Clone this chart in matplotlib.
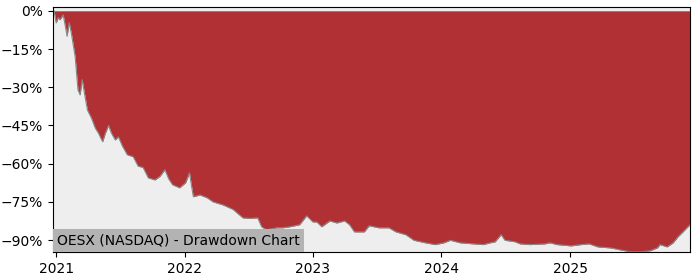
import numpy as np
import pandas as pd
import matplotlib
matplotlib.use('Agg')
import matplotlib.pyplot as plt
from matplotlib.ticker import FuncFormatter

# drawdown readings (date, % below peak)
dates = ['2020-12-23', '2020-12-26', '2021-01-01', '2021-01-07', '2021-01-12', '2021-01-21',
         '2021-01-27', '2021-02-01', '2021-02-07', '2021-02-13', '2021-02-24', '2021-03-04',
         '2021-03-10', '2021-03-16', '2021-03-22', '2021-03-31', '2021-04-11', '2021-04-22',
         '2021-05-01', '2021-05-13', '2021-05-21', '2021-05-30', '2021-06-07', '2021-06-18',
         '2021-06-27', '2021-07-08', '2021-07-22', '2021-08-08', '2021-08-22', '2021-09-05',
         '2021-09-20', '2021-10-09', '2021-10-23', '2021-11-06', '2021-11-17', '2021-11-28',
         '2021-12-18', '2022-01-04', '2022-01-15', '2022-01-20', '2022-01-26', '2022-02-14',
         '2022-03-06', '2022-03-23', '2022-04-20', '2022-05-19', '2022-06-16', '2022-07-05',
         '2022-07-28', '2022-08-08', '2022-08-22', '2022-09-20', '2022-10-07', '2022-10-27',
         '2022-11-24', '2022-12-14', '2023-01-01', '2023-01-12', '2023-01-26', '2023-02-18',
         '2023-03-10', '2023-04-01', '2023-04-15', '2023-04-29', '2023-05-27', '2023-06-10',
         '2023-07-08', '2023-08-05', '2023-08-25', '2023-09-22', '2023-10-15', '2023-11-17',
         '2023-12-15', '2024-01-08', '2024-01-27', '2024-02-24', '2024-04-01', '2024-04-29',
         '2024-05-19', '2024-06-02', '2024-06-19', '2024-06-30', '2024-07-29', '2024-08-12',
         '2024-09-09', '2024-10-22', '2024-11-05', '2024-11-25', '2025-01-04', '2025-02-01',
         '2025-02-24', '2025-03-21', '2025-04-27', '2025-05-25', '2025-06-22', '2025-07-20',
         '2025-08-17', '2025-09-06', '2025-09-14', '2025-10-04', '2025-10-21', '2025-11-04',
         '2025-11-18', '2025-12-02', '2025-12-08']
drawdown = [0.0, 0.0, -4.7, -2.7, -3.5, -1.6,
            -6.0, -10.0, -4.7, -8.6, -18.0, -31.0,
            -33.0, -27.0, -32.0, -39.0, -42.0, -46.0,
            -48.0, -51.4, -48.0, -45.0, -48.0, -50.7,
            -49.5, -53.0, -56.5, -57.3, -61.0, -61.5,
            -65.6, -66.4, -65.0, -62.4, -66.0, -68.3,
            -69.5, -67.5, -63.6, -68.0, -73.0, -72.3,
            -73.4, -75.0, -76.2, -78.0, -81.3, -81.5,
            -81.3, -84.8, -86.0, -85.2, -85.2, -84.8,
            -84.0, -80.5, -82.9, -82.9, -84.8, -82.5,
            -83.3, -82.5, -84.0, -86.8, -86.8, -84.4,
            -85.2, -85.2, -86.8, -87.9, -90.1, -91.1,
            -91.8, -91.1, -90.1, -91.1, -91.5, -91.8,
            -91.1, -90.7, -87.9, -90.1, -90.7, -91.5,
            -91.8, -91.5, -91.1, -91.8, -92.3, -91.8,
            -91.5, -92.7, -93.1, -93.9, -94.6, -94.6,
            -94.2, -93.1, -91.8, -92.7, -91.1, -88.7,
            -86.8, -84.8, -84.0]
yticks = [0, -15, -30, -45, -60, -75, -90]
title = 'OESX (NASDAQ) - Drawdown Chart'

x = pd.to_datetime(dates)
y = np.array(drawdown)

fig = plt.figure(figsize=(7, 2.8), dpi=100)
ax = fig.add_axes([0.0757, 0.1, 0.91, 0.875])
ax.set_facecolor('#eeeeee')
ax.fill_between(x, y, 0, color='#b03033', lw=0)
ax.plot(x, y, color='#888888', lw=0.8)

ax.set_xlim(x[0], x[-1])
ax.set_ylim(-94.7, 1.5)
ax.set_yticks(yticks)
ax.yaxis.set_major_formatter(FuncFormatter(lambda v, p: f'{v:.0f}%'.replace('-', '\u2212')))
ax.set_xticks(pd.to_datetime(['2021-01-01', '2022-01-01', '2023-01-01', '2024-01-01', '2025-01-01']))
ax.set_xticklabels(['2021', '2022', '2023', '2024', '2025'])
ax.tick_params(labelsize=10)

ax.text(0.0066, 0.018, title, transform=ax.transAxes, fontsize=10, ha='left', va='bottom',
        bbox=dict(facecolor='#b3b3b3', edgecolor='none', pad=3))

fig.savefig('out.png')
